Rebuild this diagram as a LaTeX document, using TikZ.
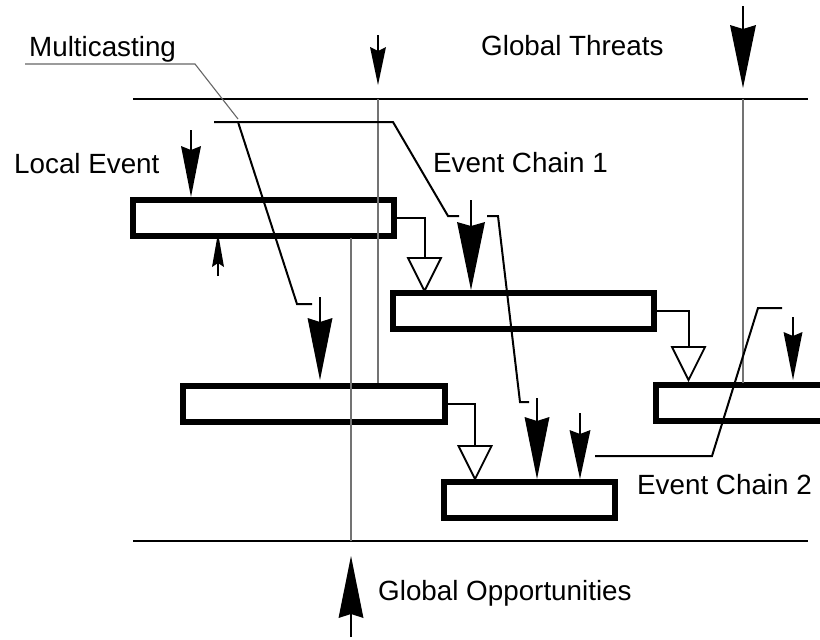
\documentclass[tikz,border=0pt]{standalone}
\usepackage{fontspec}
\setmainfont{Liberation Sans}
\tikzset{
  evbox/.style={draw=black, line width=6pt, minimum width=261pt, minimum height=36pt, inner sep=0pt},
  lbl/.style={inner sep=0pt, anchor=base west, font=\fontsize{27.8}{32}\selectfont},
  frame/.style={line width=2.5pt},
  guide/.style={black!55, line width=1.3pt},
  lead/.style={line width=2pt, line join=miter},
  thinlead/.style={black!60, line width=1.1pt},
  conn/.style={line width=2pt},
  opentri/.style={line width=1.8pt, fill=white, line join=miter},
}
\newcommand{\dartdn}[5]{%
  \draw[line width=2pt] (#1,#2) -- (#1,#3+4);
  \fill (#1-#5/2,#3) -- (#1,#3+4) -- (#1+#5/2,#3) -- (#1,#4) -- cycle;}
\newcommand{\dartup}[5]{%
  \draw[line width=2pt] (#1,#2) -- (#1,#3-4);
  \fill (#1-#5/2,#3) -- (#1,#3-4) -- (#1+#5/2,#3) -- (#1,#4) -- cycle;}
\newcommand{\opentriangle}[1]{%
  \draw[opentri] ($(#1)+(-16.5,0)$) -- ($(#1)+(16.5,0)$) -- ($(#1)+(0,33)$) -- cycle;}
\usetikzlibrary{calc}
\begin{document}
\begin{tikzpicture}[x=1pt,y=-1pt]
\clip (0,0) rectangle (820,640);
\fill[white] (0,0) rectangle (820,640);

% frame lines
\coordinate (tl) at (133,99);
\coordinate (tr) at (808,99);
\coordinate (bl) at (133,541);
\coordinate (br) at (808,541);
\draw[frame] (tl) -- (tr);
\draw[frame] (bl) -- (br);

% boxes
\node[evbox] (b1) at (263.5,217.5) {};
\node[evbox] (b2) at (523.5,310.5) {};
\node[evbox, minimum width=262pt] (b3) at (314,403.5) {};
\node[evbox] (b4) at (786.5,403) {};
\node[evbox, minimum width=171pt] (b5) at (529.5,500) {};

% guide lines
\coordinate (g1t) at (378,99);
\coordinate (g2t) at (743,99);
\draw[guide] (g1t) -- (378,383);
\draw[guide] (g2t) -- (743,383);
\draw[guide] (351,238) -- (bl -| 351,0);

% connectors with open triangles
\coordinate (t1) at (424.5,258);
\coordinate (t2) at (688.5,347);
\coordinate (t3) at (475,446);
\draw[conn] (b1.east) -| (t1);
\draw[conn] (b2.east) -| (t2);
\draw[conn] (b3.east) -| (t3);
\opentriangle{t1}
\opentriangle{t2}
\opentriangle{t3}

% leader lines
\draw[thinlead] (25,64) -- (195,64) -- (238,119);
\draw[lead] (214,122) -- (393,122) -- (448,216) -- (459,216);
\draw[lead] (238,122) -- (297,304) -- (312,304);
\draw[lead] (487,216) -- (498,216) -- (520,402) -- (529,402);
\draw[lead] (595,456) -- (712,456) -- (758,308) -- (782,308);

% filled dart arrows
\dartdn{378}{35}{47}{85}{16}
\dartdn{743}{6}{25}{88}{26}
\dartdn{191}{130}{146}{197}{20}
\dartup{218}{276}{267}{233}{12}
\dartdn{471}{200}{222}{290}{28}
\dartdn{320}{297}{318}{380}{25}
\dartdn{537}{398}{417}{479}{25}
\dartdn{580}{413}{430}{479}{21}
\dartdn{793}{317}{332}{380}{19}
\dartup{351}{637}{618}{556}{25}

% labels
\node[lbl] (mc) at (29,56) {Multicasting};
\node[lbl] (gt) at (481,55) {Global Threats};
\node[lbl] (le) at (14,173) {Local Event};
\node[lbl] (ec1) at (433,172) {Event Chain 1};
\node[lbl] (ec2) at (637,494) {Event Chain 2};
\node[lbl] (go) at (378,600) {Global Opportunities};
\end{tikzpicture}
\end{document}
